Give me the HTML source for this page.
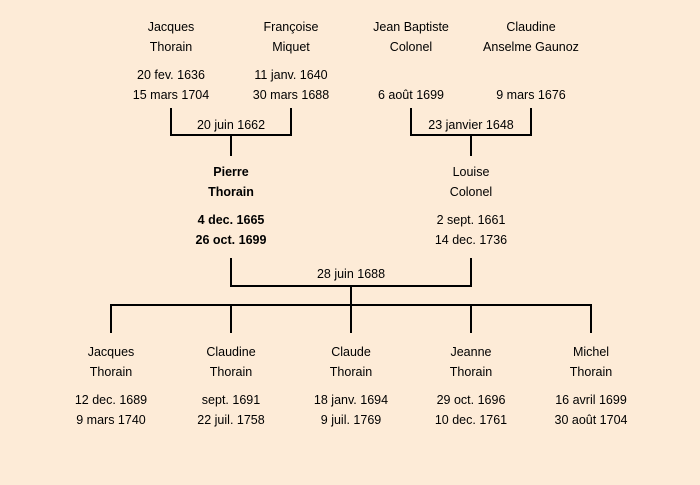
<!DOCTYPE html>
<html><head><meta charset="utf-8"><style>
html,body{margin:0;padding:0;background:#fdebd7;}
svg{display:block}
text{font-family:"Liberation Sans",sans-serif;font-size:12.5px;fill:#000;text-anchor:middle;dominant-baseline:central}
.b{font-weight:bold}
</style></head><body>
<svg width="700" height="485" viewBox="0 0 700 485">
<rect width="700" height="485" fill="#fdebd7"/>
<g stroke="#000" stroke-width="2" fill="none">
<polyline points="171,108 171,135 291,135 291,108"/>
<line x1="231" y1="135" x2="231" y2="156"/>
<polyline points="411,108 411,135 531,135 531,108"/>
<line x1="471" y1="135" x2="471" y2="156"/>
<polyline points="231,258 231,286 471,286 471,258"/>
<line x1="351" y1="286" x2="351" y2="305"/>
<line x1="110" y1="305" x2="592" y2="305"/>
<line x1="111" y1="305" x2="111" y2="333"/>
<line x1="231" y1="305" x2="231" y2="333"/>
<line x1="351" y1="305" x2="351" y2="333"/>
<line x1="471" y1="305" x2="471" y2="333"/>
<line x1="591" y1="305" x2="591" y2="333"/>
</g>
<text x="171" y="27">Jacques</text><text x="171" y="47">Thorain</text>
<text x="171" y="75">20 fev. 1636</text><text x="171" y="95">15 mars 1704</text>
<text x="291" y="27">Françoise</text><text x="291" y="47">Miquet</text>
<text x="291" y="75">11 janv. 1640</text><text x="291" y="95">30 mars 1688</text>
<text x="411" y="27">Jean Baptiste</text><text x="411" y="47">Colonel</text>
<text x="411" y="95">6 août 1699</text>
<text x="531" y="27">Claudine</text><text x="531" y="47">Anselme Gaunoz</text>
<text x="531" y="95">9 mars 1676</text>
<text x="231" y="125">20 juin 1662</text>
<text x="471" y="125">23 janvier 1648</text>
<text class="b" x="231" y="172">Pierre</text><text class="b" x="231" y="192">Thorain</text>
<text class="b" x="231" y="220">4 dec. 1665</text><text class="b" x="231" y="240">26 oct. 1699</text>
<text x="471" y="172">Louise</text><text x="471" y="192">Colonel</text>
<text x="471" y="220">2 sept. 1661</text><text x="471" y="240">14 dec. 1736</text>
<text x="351" y="274">28 juin 1688</text>
<text x="111" y="352">Jacques</text><text x="111" y="372">Thorain</text>
<text x="111" y="400">12 dec. 1689</text><text x="111" y="420">9 mars 1740</text>
<text x="231" y="352">Claudine</text><text x="231" y="372">Thorain</text>
<text x="231" y="400">sept. 1691</text><text x="231" y="420">22 juil. 1758</text>
<text x="351" y="352">Claude</text><text x="351" y="372">Thorain</text>
<text x="351" y="400">18 janv. 1694</text><text x="351" y="420">9 juil. 1769</text>
<text x="471" y="352">Jeanne</text><text x="471" y="372">Thorain</text>
<text x="471" y="400">29 oct. 1696</text><text x="471" y="420">10 dec. 1761</text>
<text x="591" y="352">Michel</text><text x="591" y="372">Thorain</text>
<text x="591" y="400">16 avril 1699</text><text x="591" y="420">30 août 1704</text>
</svg>
</body></html>
